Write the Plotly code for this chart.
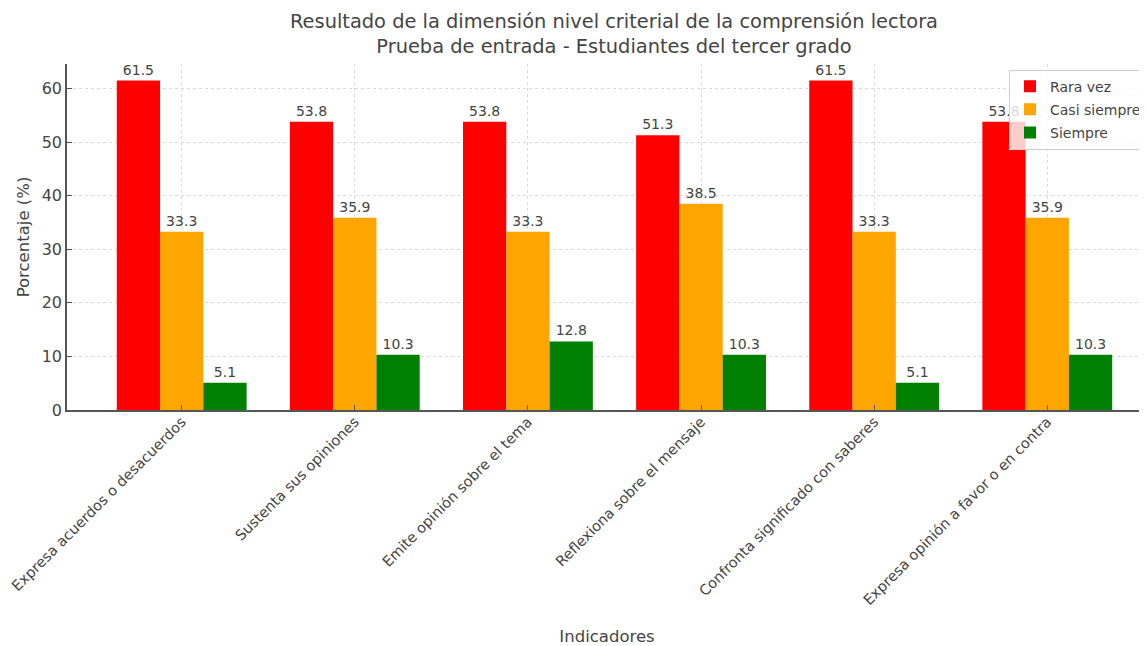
import plotly.graph_objects as go

categorias = ["Expresa acuerdos o desacuerdos", "Sustenta sus opiniones",
              "Emite opinión sobre el tema", "Reflexiona sobre el mensaje",
              "Confronta significado con saberes", "Expresa opinión a favor o en contra"]
rara_vez = [61.5, 53.8, 53.8, 51.3, 61.5, 53.8]
casi_siempre = [33.3, 35.9, 33.3, 38.5, 33.3, 35.9]
siempre = [5.1, 10.3, 12.8, 10.3, 5.1, 10.3]

series = [("Rara vez", rara_vez, "#ff0000"),
          ("Casi siempre", casi_siempre, "#ffa500"),
          ("Siempre", siempre, "#008000")]

FONT = "DejaVu Sans"
TXT = "#444444"
x_idx = list(range(len(categorias)))

# page has an 8px body margin -> compensate
W, H = 1139, 638

fig = go.Figure()
for name, vals, col in series:
    fig.add_trace(go.Bar(
        x=x_idx, y=vals, name=name, legendgroup=name,
        marker=dict(color=col, line=dict(width=0)),
        text=[f"{v:.1f}" for v in vals], textposition="outside", cliponaxis=False,
        textfont=dict(family=FONT, size=14, color=TXT),
    ))

fig.update_layout(
    width=W, height=H,
    margin=dict(l=59, r=0, t=56, b=236),
    paper_bgcolor="white", plot_bgcolor="white",
    barmode="group", bargap=0.25, bargroupgap=0,
    font=dict(family=FONT, color=TXT),
    title=dict(text="Resultado de la dimensión nivel criterial de la comprensión lectora<br>Prueba de entrada - Estudiantes del tercer grado",
               x=(606 / W), xanchor="center", xref="container",
               y=1 - 20 / H, yanchor="top", yref="container",
               font=dict(family=FONT, size=19.4, color=TXT)),
    legend=dict(x=1, xanchor="right", y=0.984, yanchor="top",
                bgcolor="rgba(255,255,255,0.8)", bordercolor="#cccccc", borderwidth=1,
                font=dict(family=FONT, size=14, color=TXT),
                traceorder="grouped", tracegroupgap=2, itemwidth=30),
    showlegend=True,
)

fig.update_xaxes(
    range=[-0.6625, 5.576], tickvals=x_idx, ticktext=categorias, tickangle=-45,
    showline=True, linecolor="#555555", linewidth=1.5, mirror=False,
    ticks="inside", ticklen=5, tickcolor="#555555",
    showgrid=True, gridcolor="#d9d9d9", griddash="3px,3px", gridwidth=1,
    tickfont=dict(family=FONT, size=14.5, color=TXT), ticklabelstandoff=-4,
    ticklabeloverflow="allow",
    title=dict(text="Indicadores", font=dict(family=FONT, size=16.5, color=TXT), standoff=26),
    zeroline=False, automargin=False,
)
fig.update_yaxes(
    range=[0, 64.6], tickvals=[0, 10, 20, 30, 40, 50, 60],
    showline=True, linecolor="#555555", linewidth=1.5,
    ticks="inside", ticklen=5, tickcolor="#555555",
    showgrid=True, gridcolor="#d9d9d9", griddash="3px,3px", gridwidth=1,
    tickfont=dict(family=FONT, size=16, color=TXT),
    title=dict(text="Porcentaje (%)", font=dict(family=FONT, size=16.5, color=TXT), standoff=8),
    zeroline=False, automargin=False,
)

fig.write_html("out.html")
